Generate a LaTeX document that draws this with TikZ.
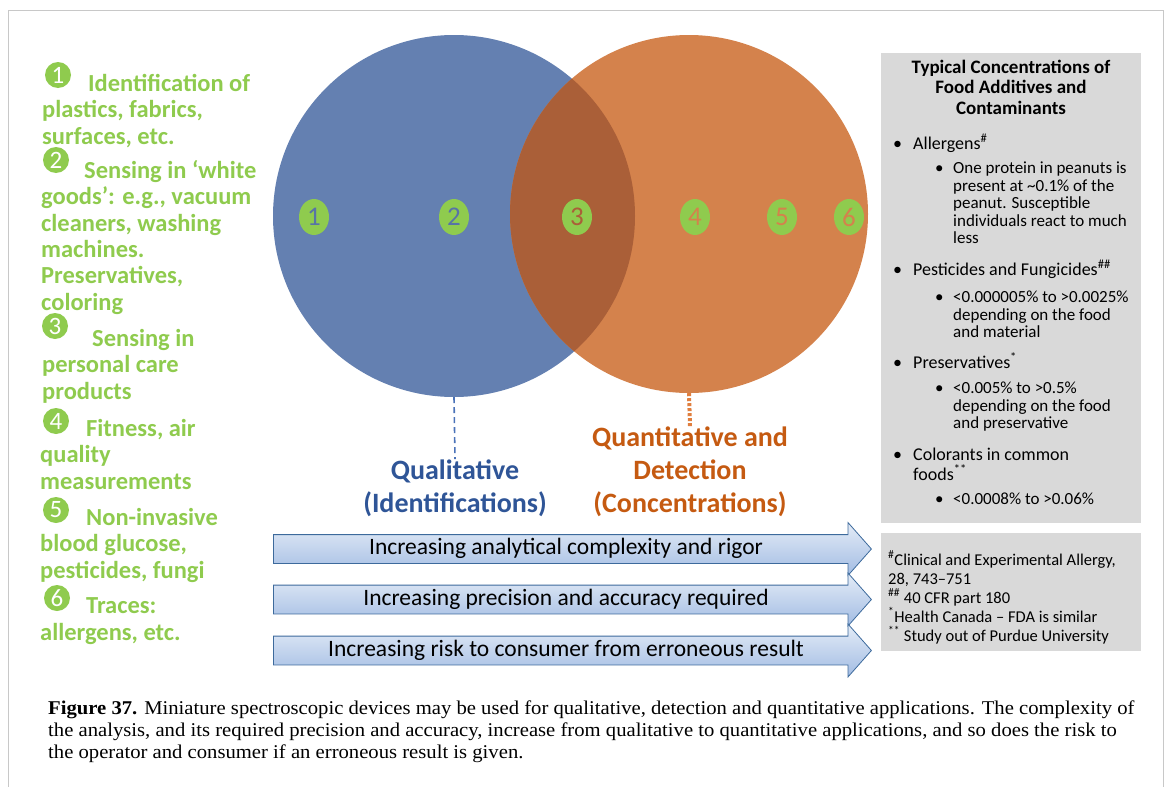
\documentclass[tikz,border=0pt]{standalone}
\usepackage{fontspec}
\setmainfont{Carlito}
\newfontfamily\capfont[FakeStretch=1.06]{Liberation Serif}
\usetikzlibrary{shapes.geometric, shapes.arrows, positioning}

\definecolor{qualblue}{HTML}{6480B1}
\definecolor{quantorange}{HTML}{D4824C}
\definecolor{overlapbrown}{HTML}{AA5F38}
\definecolor{itemgreen}{HTML}{8FCB4E}
\definecolor{labelblue}{HTML}{2F5597}
\definecolor{labelorange}{HTML}{C55A11}
\definecolor{dashblue}{HTML}{4A72B8}
\definecolor{dotorange}{HTML}{E07E3E}
\definecolor{boxgrey}{HTML}{D9D9D9}
\definecolor{arrowedge}{HTML}{3D6A9C}
\definecolor{arrowtop}{HTML}{E4ECF7}
\definecolor{arrowbottom}{HTML}{A2BCE3}
\definecolor{framegrey}{HTML}{C8C8C8}
\definecolor{qualdigit}{HTML}{5873A6}

\tikzset{
  itemtext/.style = {anchor=base west, align=left, inner sep=0pt, text=itemgreen,
                     font=\bfseries\fontsize{24.5}{26.3}\selectfont},
  itemdot/.style  = {circle, fill=itemgreen, minimum size=26pt, inner sep=0pt,
                     text=white, font=\fontsize{25}{25}\selectfont},
  venn/.style     = {circle, inner sep=0pt},
  venndot/.style  = {ellipse, fill=itemgreen, minimum width=30pt, minimum height=36pt,
                     inner sep=0pt, font=\fontsize{27}{27}\selectfont},
  setlabel/.style = {anchor=base, align=center, inner sep=0pt,
                     font=\bfseries\fontsize{28}{33}\selectfont},
  flowarrow/.style = {single arrow, draw=arrowedge, line width=0.8pt,
                      top color=arrowtop, bottom color=arrowbottom,
                      minimum height=598pt, single arrow head extend=12pt,
                      single arrow tip angle=97, text height=16pt, text depth=5pt,
                      inner ysep=3.5pt, anchor=tail, font=\fontsize{23.5}{26}\selectfont},
  infobox/.style  = {fill=boxgrey, anchor=north west, inner sep=0pt},
  bullone/.style  = {anchor=base west, align=left, inner sep=0pt, font=\fontsize{18}{20}\selectfont},
  bulltwo/.style  = {anchor=base west, align=left, inner sep=0pt,
                     font=\fontsize{17}{17.5}\selectfont}
}

\begin{document}
\begin{tikzpicture}[x=1pt, y=-1pt]
  \useasboundingbox (0,0) rectangle (1168,787);
  \draw[framegrey, line width=1pt] (8.5,800) -- (8.5,10.5) -- (1163.5,10.5) -- (1163.5,800);

  % applications list (base = last line)
  \node[itemdot] (dot1) at (58,75)  {1};
  \node[itemdot] (dot2) at (56,160) {2};
  \node[itemdot] (dot3) at (55,326) {3};
  \node[itemdot] (dot4) at (56,421) {4};
  \node[itemdot] (dot5) at (56,510) {5};
  \node[itemdot] (dot6) at (57,598) {6};
  \node[itemtext] (item1) at (42,144) {\hspace*{46pt}Identification of\\plastics, fabrics,\\surfaces, etc.};
  \node[itemtext] (item2) at (41,310) {\hspace*{43pt}Sensing in ‘white\\goods’: e.g., vacuum\\cleaners, washing\\machines.\\Preservatives,\\coloring};
  \node[itemtext] (item3) at (42,399) {\hspace*{50pt}Sensing in\\personal care\\products};
  \node[itemtext] (item4) at (40,489) {\hspace*{46pt}Fitness, air\\quality\\measurements};
  \node[itemtext] (item5) at (40,578) {\hspace*{46pt}Non-invasive\\blood glucose,\\pesticides, fungi};
  \node[itemtext] (item6) at (40,640) {\hspace*{46pt}Traces:\\allergens, etc.};

  % Venn diagram
  \node[venn, fill=qualblue, minimum size=362pt] (qualset) at (454,216) {};
  \node[venn, fill=quantorange, minimum size=358pt] (quantset) at (689,214) {};
  \begin{scope}
    \clip (454,216) circle (181);
    \fill[overlapbrown] (689,214) circle (179);
  \end{scope}
  \foreach \n/\x/\c in {1/314/qualdigit, 2/454/qualdigit, 3/577/overlapbrown,
                        4/695/quantorange, 5/782/quantorange, 6/849/quantorange}
    \node[venndot, text=\c] (vdot\n) at (\x,217) {\n};

  \node[setlabel, text=labelblue] (quallabel) at (455,512) {Qualitative\\(Identifications)};
  \node[setlabel, text=labelorange] (quantlabel) at (690,512) {Quantitative and\\Detection\\(Concentrations)};
  \draw[dashblue, line width=1.6pt, dash pattern=on 6pt off 4pt] (qualset.south) -- (quallabel.north);
  \draw[dotorange, line width=4pt, dash pattern=on 3pt off 2pt] (quantset.south) -- (quantlabel.north);

  % trend arrows
  \node[flowarrow] (trend1) at (273,549)   {Increasing analytical complexity and rigor};
  \node[flowarrow] (trend2) at (273,599.5) {Increasing precision and accuracy required};
  \node[flowarrow] (trend3) at (273,650.5) {Increasing risk to consumer from erroneous result};

  % concentrations box
  \node[infobox, minimum width=260pt, minimum height=470pt] (concbox) at (881,53) {};
  \node[anchor=base, align=center, inner sep=0pt, font=\bfseries\fontsize{19}{20.5}\selectfont]
    (conctitle) at (1011,114) {Typical Concentrations of\\Food Additives and\\Contaminants};
  \node[bullone] (b1) at (893,149) {•}; \node[bullone] (t1) at (913,149) {Allergens\textsuperscript{\#}};
  \node[bulltwo] (s1) at (935,173.5) {•};
  \node[bulltwo] (u1) at (953,243.5) {One protein in peanuts is\\present at \textasciitilde 0.1\% of the\\peanut. Susceptible\\individuals react to much\\less};
  \node[bullone] (b2) at (893,275) {•}; \node[bullone] (t2) at (913,275) {Pesticides and Fungicides\textsuperscript{\#\#}};
  \node[bulltwo] (s2) at (935,302.5) {•};
  \node[bulltwo] (u2) at (953,337.5) {<0.000005\% to >0.0025\%\\depending on the food\\and material};
  \node[bullone] (b3) at (893,368) {•}; \node[bullone] (t3) at (913,368) {Preservatives\textsuperscript{*}};
  \node[bulltwo] (s3) at (935,393.5) {•};
  \node[bulltwo] (u3) at (953,428.5) {<0.005\% to >0.5\%\\depending on the food\\and preservative};
  \node[bullone] (b4) at (893,460) {•};
  \node[bullone] (t4) at (913,480) {Colorants in common\\foods\textsuperscript{**}};
  \node[bulltwo] (s4) at (935,504.5) {•};
  \node[bulltwo] (u4) at (953,504.5) {<0.0008\% to >0.06\%};

  % sources box
  \node[infobox, minimum width=260pt, minimum height=118pt] (srcbox) at (881,533) {};
  \node[anchor=base west, align=left, inner sep=0pt, font=\fontsize{16.5}{19}\selectfont]
    (sources) at (888,641) {\textsuperscript{\#}Clinical and Experimental Allergy,\\28, 743--751\\\textsuperscript{\#\#} 40 CFR part 180\\\textsuperscript{*}Health Canada -- FDA is similar\\\textsuperscript{**} Study out of Purdue University};

  % caption
  \node[anchor=base west, align=left, inner sep=0pt, font=\capfont\fontsize{19.5}{22}\selectfont]
    (caption) at (48,758.5) {\textbf{Figure 37.} Miniature spectroscopic devices may be used for qualitative, detection and quantitative applications. The complexity of\\the analysis, and its required precision and accuracy, increase from qualitative to quantitative applications, and so does the risk to\\the operator and consumer if an erroneous result is given.};
\end{tikzpicture}
\end{document}
